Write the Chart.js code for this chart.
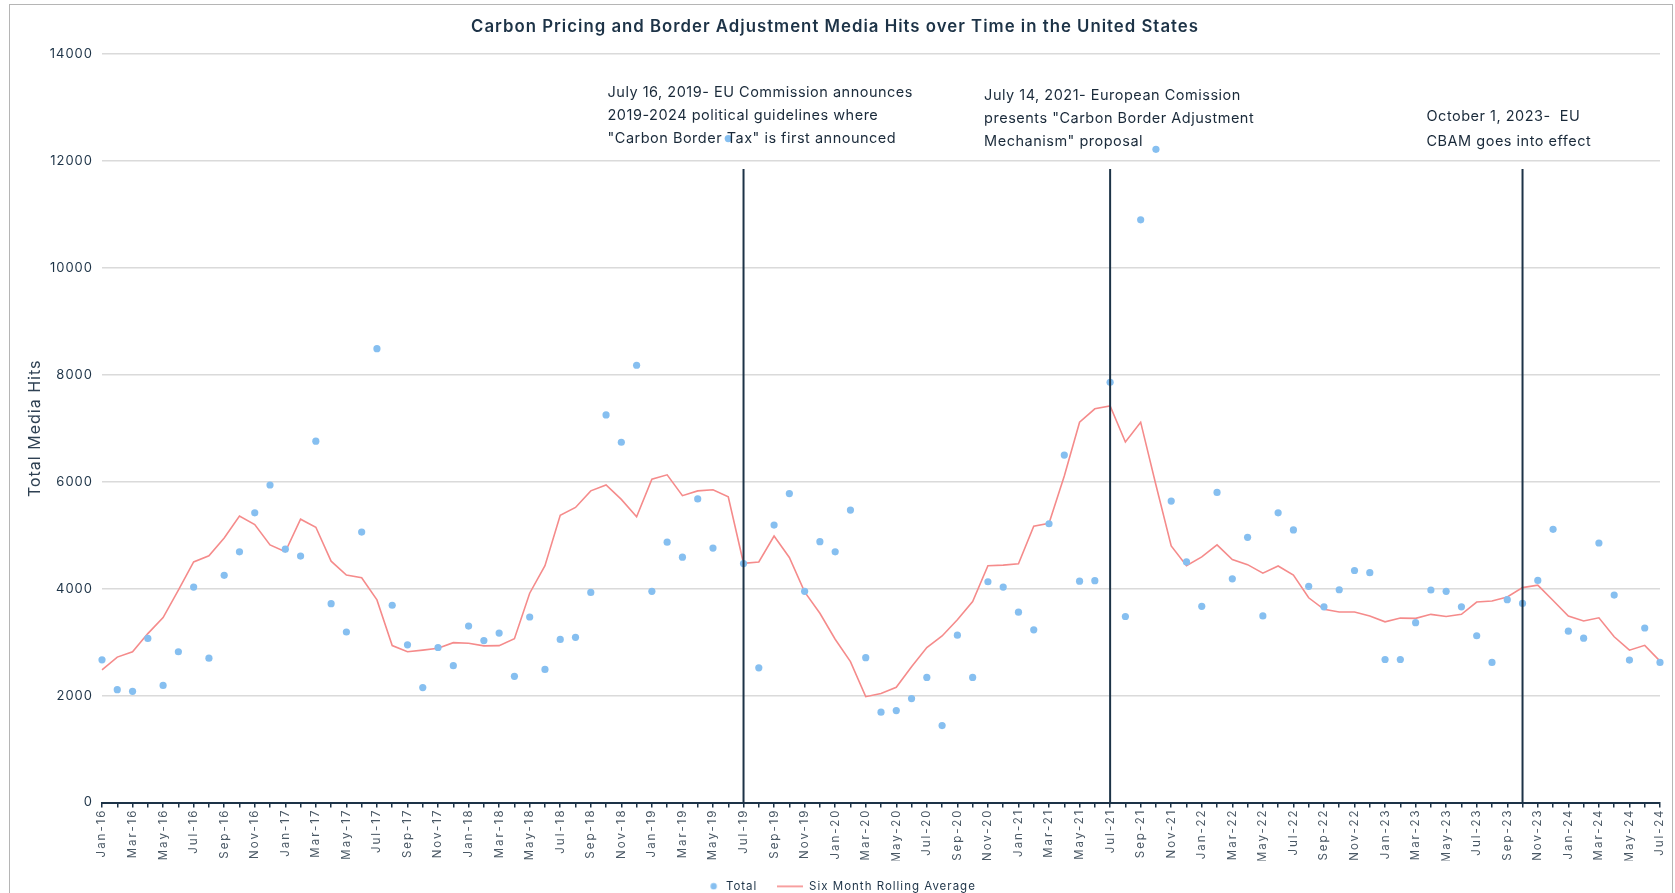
<!DOCTYPE html>
<html>
<head>
<meta charset="utf-8">
<script src="https://cdn.jsdelivr.net/npm/chart.js@4.4.1/dist/chart.umd.min.js"></script>
<style>
  html, body { margin: 0; padding: 0; background: #fff; }
  #wrap { position: relative; width: 1675px; height: 893px; overflow: hidden; }
  #frame { position: absolute; left: 9px; top: 4px; width: 1664px; height: 900px; border: 1px solid #b5b5b5; box-sizing: border-box; pointer-events: none; }
  #chart { position: absolute; left: 0; top: 0; }
</style>
</head>
<body>
<div id="wrap">
  <canvas id="chart" width="1675" height="893"></canvas>
  <div id="frame"></div>
</div>
<script>
/*
    Carbon pricing / border adjustment media hits, monthly Jan-16 .. Jul-24.
*/

const monthNames = ["Jan", "Feb", "Mar", "Apr", "May", "Jun", "Jul", "Aug", "Sep", "Oct", "Nov", "Dec"];
const years = ["16", "17", "18", "19", "20", "21", "22", "23", "24"];

// category labels, e.g. "Jan-16"
const monthLabels = [];
years.forEach((yr) => monthNames.forEach((m) => monthLabels.push(m + "-" + yr)));
monthLabels.splice(monthLabels.indexOf("Jul-24") + 1);

const totalHits = [
    2670, 2110, 2080, 3070, 2190, 2820, 4030, 2700, 4250, 4690, 5420, 5940,
    4740, 4610, 6760, 3720, 3190, 5060, 8490, 3690, 2950, 2150, 2900, 2560,
    3300, 3030, 3170, 2360, 3470, 2490, 3050, 3090, 3930, 7250, 6740, 8180,
    3950, 4870, 4590, 5680, 4760, 12420, 4470, 2520, 5190, 5780, 3950, 4880,
    4690, 5470, 2710, 1690, 1720, 1945, 2340, 1440, 3130, 2340, 4130, 4030,
    3560, 3230, 5215, 6500, 4140, 4150, 7860, 3480, 10900, 12220, 5640, 4500,
    3670, 5800, 4185, 4960, 3490, 5420, 5100, 4045, 3660, 3980, 4340, 4300,
    2675, 2675, 3365, 3975, 3950, 3660, 3120, 2620, 3795, 3725, 4155, 5110,
    3205, 3075, 4855, 3880, 2665, 3265, 2620
];

const rollingAverage = [
    2480, 2720, 2820, 3160, 3460, 3975, 4500, 4615, 4950, 5360, 5200, 4820,
    4690, 5300, 5150, 4515, 4255, 4205, 3790, 2935, 2820, 2850, 2885, 2990,
    2980, 2930, 2935, 3065, 3915, 4430, 5375, 5520, 5830, 5940, 5670, 5345,
    6050, 6130, 5740, 5830, 5850, 5720, 4475, 4500, 4985, 4585, 3940, 3540,
    3055, 2635, 1980, 2040, 2155, 2540, 2900, 3115, 3420, 3760, 4430, 4440,
    4465, 5170, 5225, 6110, 7115, 7365, 7420, 6745, 7115, 5940, 4800, 4430,
    4595, 4820, 4545, 4450, 4290, 4425, 4255, 3830, 3615, 3565, 3565, 3490,
    3380, 3450, 3445, 3520, 3480, 3520, 3750, 3770, 3845, 4020, 4065, 3780,
    3490, 3395, 3455, 3100, 2850, 2940, 2645
];

const yTicks = [0, 2000, 4000, 6000, 8000, 10000, 12000, 14000];

// events marked with a vertical rule
const eventMonths = ["Jul-19", "Jul-21", "Oct-23"];
const eventLineTop = 11850;
const eventNotes = [
    ["July 16, 2019- EU Commission announces", "2019-2024 political guidelines where", "\"Carbon Border Tax\" is first announced"],
    ["July 14, 2021- European Comission", "presents \"Carbon Border Adjustment", "Mechanism\" proposal"],
    ["October 1, 2023-  EU", "CBAM goes into effect"]
];

const navy = "#1d3347";
const dotColor = "#86bff0";
const lineColor = "#f58b8b";
const fontFamily = "Inter, 'Open Sans', sans-serif";

// x labels in the original are widely spaced
class SpacedCategoryScale extends Chart.CategoryScale {
    drawLabels(chartArea) {
        this.ctx.save();
        this.ctx.letterSpacing = "2px";
        super.drawLabels(chartArea);
        this.ctx.restore();
    }
}
SpacedCategoryScale.id = "spacedCategory";
SpacedCategoryScale.defaults = Chart.CategoryScale.defaults;
Chart.register(SpacedCategoryScale);

// legend markers: small dot sitting next to its text, and a line segment
function makeMarker(w, h, draw) {
    const cv = document.createElement("canvas");
    cv.width = w;
    cv.height = h;
    draw(cv.getContext("2d"));
    return cv;
}
const dotMarker = makeMarker(26, 8, (c) => {
    c.fillStyle = dotColor;
    c.beginPath();
    c.arc(19.5, 4, 3.2, 0, Math.PI * 2);
    c.fill();
});
const lineMarker = makeMarker(26, 3, (c) => {
    c.strokeStyle = lineColor;
    c.lineWidth = 1.6;
    c.beginPath();
    c.moveTo(0, 1.5);
    c.lineTo(26, 1.5);
    c.stroke();
});
const legendMarkers = [dotMarker, lineMarker];

const spacingPlugin = {
    id: "spacingPlugin",
    beforeUpdate(chart) { chart.ctx.letterSpacing = "1px"; },
    beforeDraw(chart) { chart.ctx.letterSpacing = "1px"; },
};

const eventPlugin = {
    id: "eventPlugin",
    afterDatasetsDraw(chart) {
        const { ctx, scales: { x, y } } = chart;
        const textLeft = [-136, -126, -96];
        const textTop = [92.5, 96, 117];
        const lineGap = [23, 23, 24.5];

        ctx.save();
        ctx.letterSpacing = "0.5px";
        eventMonths.forEach((m, k) => {
            const px = x.getPixelForValue(monthLabels.indexOf(m));

            ctx.strokeStyle = navy;
            ctx.lineWidth = 2;
            ctx.beginPath();
            ctx.moveTo(px, y.getPixelForValue(0));
            ctx.lineTo(px, y.getPixelForValue(eventLineTop));
            ctx.stroke();

            ctx.fillStyle = "#1a2a3a";
            ctx.font = "14.5px " + fontFamily;
            ctx.textBaseline = "middle";
            ctx.textAlign = "left";
            eventNotes[k].forEach((line, j) => {
                ctx.fillText(line, px + textLeft[k], textTop[k] + j * lineGap[k]);
            });
        });
        ctx.restore();
    }
};

const ctx = document.getElementById("chart").getContext("2d");

new Chart(ctx, {
    type: "line",
    data: {
        labels: monthLabels,
        datasets: [
            {
                label: "Total",
                data: totalHits,
                showLine: false,
                pointRadius: 3.6,
                pointBorderWidth: 0,
                pointBackgroundColor: dotColor,
                backgroundColor: dotColor,
                borderColor: dotColor,
                order: 1,
            },
            {
                label: "Six Month Rolling Average",
                data: rollingAverage,
                borderColor: lineColor,
                backgroundColor: lineColor,
                borderWidth: 1.6,
                pointRadius: 0,
                tension: 0,
                order: 2,
            },
        ],
    },
    options: {
        responsive: false,
        animation: false,
        layout: { padding: { left: 10, right: 15, top: 0, bottom: -9 } },
        plugins: {
            title: {
                display: true,
                text: "Carbon Pricing and Border Adjustment Media Hits over Time in the United States",
                color: navy,
                font: { family: fontFamily, size: 16.8, weight: "600" },
                padding: { top: 17, bottom: 17 },
            },
            legend: {
                position: "bottom",
                labels: {
                    usePointStyle: true,
                    pointStyleWidth: 26,
                    boxHeight: 7,
                    padding: 20,
                    color: navy,
                    font: { family: fontFamily, size: 11.5 },
                    generateLabels: (chart) =>
                        Chart.defaults.plugins.legend.labels.generateLabels(chart).map((item) =>
                            Object.assign(item, { pointStyle: legendMarkers[item.datasetIndex] })),
                },
            },
            tooltip: { enabled: false },
        },
        scales: {
            x: {
                type: "spacedCategory",
                afterFit: (scale) => { scale.height = 58; },
                grid: { drawOnChartArea: false, drawTicks: true, tickLength: 5, color: navy, lineWidth: 1.5 },
                border: { display: true, color: navy, width: 2 },
                ticks: {
                    autoSkip: false,
                    minRotation: 90,
                    maxRotation: 90,
                    padding: 1,
                    color: "#4a5865",
                    font: { family: fontFamily, size: 11.5 },
                    callback: (value, index) => (index % 2 === 0 ? monthLabels[index] : ""),
                },
            },
            y: {
                min: yTicks[0],
                max: yTicks[yTicks.length - 1],
                afterFit: (scale) => { scale.width = 92; },
                afterBuildTicks: (scale) => { scale.ticks = yTicks.map((v) => ({ value: v })); },
                grid: { color: "#dadada", lineWidth: 1.5, drawTicks: false },
                border: { display: false },
                ticks: {
                    padding: 9,
                    color: navy,
                    font: { family: fontFamily, size: 13 },
                    callback: (value) => String(value),
                },
                title: {
                    display: true,
                    text: "Total Media Hits",
                    color: "#2f4153",
                    font: { family: fontFamily, size: 16 },
                    padding: { top: 16, bottom: 0 },
                },
            },
        },
    },
    plugins: [spacingPlugin, eventPlugin],
});
</script>
</body>
</html>
